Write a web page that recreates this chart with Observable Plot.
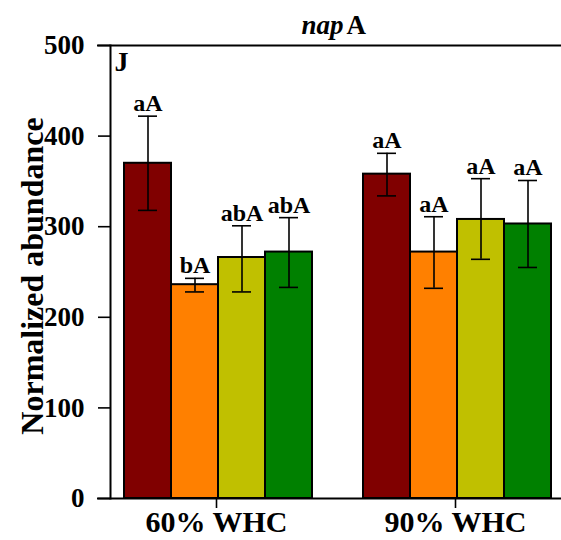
<!DOCTYPE html>
<html><head><meta charset="utf-8">
<script src="https://cdn.jsdelivr.net/npm/d3@7"></script>
<script src="https://cdn.jsdelivr.net/npm/@observablehq/plot@0.6"></script>
<style>
body{margin:0;background:#fff}
#chart svg [aria-label="frame"]{stroke-width:2}
</style>
</head><body><div id="chart"></div>
<script>
const conditions = ["60% WHC", "90% WHC"];
const treatments = ["T1", "T2", "T3", "T4"];
const colors = ["#800000", "#ff8000", "#c0c000", "#008000"];
const means60 = [370, 236, 266, 272];
const lo60 = [318, 228, 228, 233];
const hi60 = [422, 243, 301, 310];
const letters60 = ["aA", "bA", "abA", "abA"];
const means90 = [358, 272, 308, 303];
const lo90 = [334, 232, 264, 255];
const hi90 = [381, 311, 353, 351];
const letters90 = ["aA", "aA", "aA", "aA"];
const yTicks = [0, 100, 200, 300, 400, 500];
const titleItalic = "nap";
const titleUpright = "A";
const panelLetter = "J";
const yLabel = "Normalized abundance";

const series = [[means60, lo60, hi60, letters60], [means90, lo90, hi90, letters90]];
const rows = conditions.flatMap((c, ci) => treatments.map((t, ti) => ({
  condition: c, treatment: t,
  mean: series[ci][0][ti], lo: series[ci][1][ti], hi: series[ci][2][ti], letter: series[ci][3][ti]
})));
const first = [{condition: conditions[0]}];
const font = "Liberation Serif";

const chart = Plot.plot({
  width: 561, height: 540,
  marginLeft: 110, marginRight: 0, marginTop: 45, marginBottom: 42,
  style: {fontFamily: font, fontWeight: "bold", color: "black", background: "white"},
  fx: {domain: conditions, paddingInner: 0.113, paddingOuter: 0, axis: null},
  x: {domain: treatments, axis: null, paddingInner: 0, paddingOuter: 0.22, align: 0.571},
  y: {domain: [0, 500], axis: null},
  color: {domain: treatments, range: colors},
  marks: [
    Plot.barY(rows, {fx: "condition", x: "treatment", y: "mean", fill: "treatment", stroke: "black", strokeWidth: 2}),
    Plot.ruleX(rows, {fx: "condition", x: "treatment", y1: "lo", y2: "hi", stroke: "black", strokeWidth: 1.6}),
    Plot.tickY(rows, {fx: "condition", x: "treatment", y: "hi", stroke: "black", strokeWidth: 1.6, insetLeft: 14, insetRight: 14}),
    Plot.tickY(rows, {fx: "condition", x: "treatment", y: "lo", stroke: "black", strokeWidth: 1.6, insetLeft: 14, insetRight: 14}),
    Plot.text(rows, {fx: "condition", x: "treatment", y: "hi", text: "letter", dy: -5, lineAnchor: "bottom", fontSize: 24, fontWeight: "bold", fill: "black"}),
    Plot.ruleY([0, 500], {stroke: "black", strokeWidth: 2, insetLeft: -13, insetRight: -14}),
    Plot.axisY({ticks: yTicks, tickSize: 12, tickPadding: 14, fontSize: 27, fontWeight: "bold", label: null, strokeWidth: 1.6}),
    Plot.frame({anchor: "left", facetAnchor: "left", stroke: "black"}),
    Plot.axisFx({anchor: "bottom", tickSize: 10, tickPadding: 2, fontSize: 30, fontWeight: "bold", label: null, strokeWidth: 1.6}),
    Plot.text(first, {fx: "condition", frameAnchor: "left", text: () => yLabel, rotate: -90, textAnchor: "middle", lineAnchor: "middle", dx: -78, dy: 4, fontSize: 32, fontWeight: "bold", fill: "black"}),
    Plot.text(first, {fx: "condition", frameAnchor: "top-left", text: () => panelLetter, dx: 4, dy: 6, lineAnchor: "top", textAnchor: "start", fontSize: 28, fontWeight: "bold", fill: "black"}),
    Plot.text(first, {fx: "condition", frameAnchor: "top-right", text: () => titleItalic, dx: 21, dy: -12, lineAnchor: "bottom", textAnchor: "end", fontSize: 27, fontWeight: "bold", fontStyle: "italic", fill: "black"}),
    Plot.text(first, {fx: "condition", frameAnchor: "top-right", text: () => titleUpright, dx: 24, dy: -12, lineAnchor: "bottom", textAnchor: "start", fontSize: 27, fontWeight: "bold", fill: "black"})
  ]
});
document.getElementById("chart").appendChild(chart);
</script>
</body></html>
